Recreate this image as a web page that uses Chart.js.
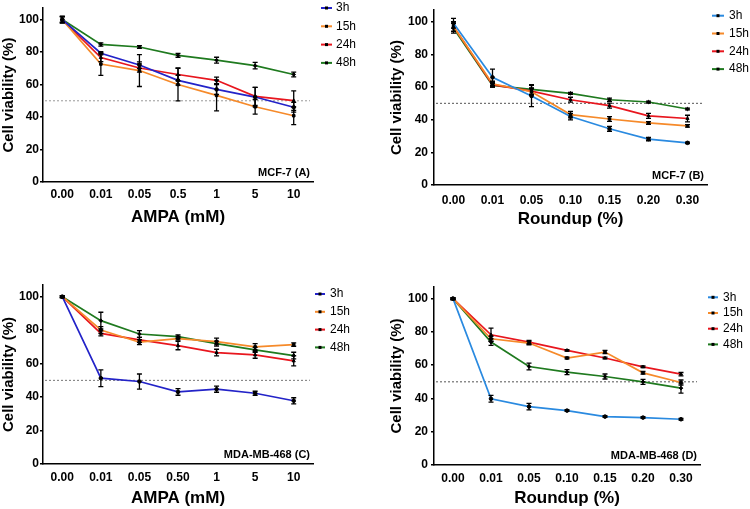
<!DOCTYPE html>
<html lang="en">
<head>
<meta charset="UTF-8">
<title>Cell viability</title>
<script src="https://cdn.jsdelivr.net/npm/chart.js"></script>
<style>
  body { margin: 0; background: #fff; }
  #wrap { position: relative; width: 750px; height: 509px; }
  .panel { position: absolute; }
</style>
</head>
<body>
<div id="wrap">
  <div class="panel" style="left:0;top:0"><canvas id="chartA" width="375" height="255"></canvas></div>
  <div class="panel" style="left:375px;top:0"><canvas id="chartB" width="375" height="255"></canvas></div>
  <div class="panel" style="left:0;top:255px"><canvas id="chartC" width="375" height="254"></canvas></div>
  <div class="panel" style="left:375px;top:255px"><canvas id="chartD" width="375" height="254"></canvas></div>
</div>

<script>
// data
const seriesNames = ['3h', '15h', '24h', '48h'];
const ampaDosesA = ['0.00', '0.01', '0.05', '0.5', '1', '5', '10'];
const ampaDosesC = ['0.00', '0.01', '0.05', '0.50', '1', '5', '10'];
const roundupDoses = ['0.00', '0.01', '0.05', '0.10', '0.15', '0.20', '0.30'];
const yTicks = [0, 20, 40, 60, 80, 100];

// MCF-7, AMPA (A)
const mcfAmpa3h  = [100, 79.3, 72.0, 62.6, 57.0, 52.3, 46.0];
const mcfAmpa15h = [100, 72.6, 68.6, 60.0, 53.3, 46.3, 40.8];
const mcfAmpa24h = [100, 76.6, 70.2, 66.2, 62.6, 52.7, 50.1];
const mcfAmpa48h = [100, 84.7, 83.1, 78.0, 75.0, 71.6, 66.2];
const mcfAmpa3hErr  = [2, 1, 2, 3, 3, 6, 3];
const mcfAmpa15hErr = [2, 7, 9.8, 10, 9.5, 4.5, 5.5];
const mcfAmpa24hErr = [2, 2.5, 2.5, 4, 2, 5.5, 6];
const mcfAmpa48hErr = [1.5, 1, 0.8, 1.2, 1.8, 2, 1.5];

// MCF-7, Roundup (B)
const mcfRound3h  = [99, 65.9, 54.5, 41.9, 34.4, 28.1, 25.8];
const mcfRound15h = [97, 62.0, 57.1, 43.1, 40.4, 38.0, 36.2];
const mcfRound24h = [97, 61.4, 57.5, 52.2, 48.6, 42.3, 40.7];
const mcfRound48h = [96, 61.0, 58.5, 56.1, 52.2, 50.8, 46.5];
const mcfRound3hErr  = [3, 5, 6.5, 2, 1.5, 1, 0.5];
const mcfRound15hErr = [3, 1.5, 2, 2, 1.5, 0.8, 0.8];
const mcfRound24hErr = [3, 1.5, 2, 1.5, 1.5, 1.5, 2];
const mcfRound48hErr = [3, 1, 3, 0.6, 1, 0.6, 0.5];

// MDA-MB-468, AMPA (C)
const mdaAmpa3h  = [100, 51.3, 49.3, 43.1, 44.7, 42.3, 37.8];
const mdaAmpa15h = [100, 80.1, 72.8, 75.0, 73.2, 70.0, 71.4];
const mdaAmpa24h = [100, 78.1, 74.2, 70.8, 66.6, 65.2, 61.6];
const mdaAmpa48h = [100, 85.7, 77.7, 76.1, 72.0, 68.2, 64.8];
const mdaAmpa3hErr  = [0.5, 5, 4.5, 2, 1.8, 1.2, 1.8];
const mdaAmpa15hErr = [0.5, 2, 1.5, 1, 2, 2, 1];
const mdaAmpa24hErr = [0.5, 1.5, 1.5, 2.5, 2, 2, 3];
const mdaAmpa48hErr = [0.5, 5, 2, 1, 1.5, 1.5, 2];

// MDA-MB-468, Roundup (D)
const mdaRound3h  = [100, 39.8, 35.1, 32.7, 29.1, 28.5, 27.5];
const mdaRound15h = [100, 75.9, 73.3, 64.3, 67.9, 55.4, 49.6];
const mdaRound24h = [100, 78.3, 73.9, 68.9, 64.3, 59.0, 54.6];
const mdaRound48h = [100, 73.9, 59.2, 55.8, 53.2, 50.0, 46.2];
const mdaRound3hErr  = [0.5, 2, 2, 0.5, 0.5, 0.5, 0.5];
const mdaRound15hErr = [0.5, 1.5, 1, 0.5, 1, 0.8, 1.5];
const mdaRound24hErr = [0.5, 4, 1, 0.5, 0.5, 0.5, 1];
const mdaRound48hErr = [0.5, 2, 2, 1.5, 1.5, 1.5, 3];

const darkColors  = ['#2323c8', '#f68a2a', '#e8161e', '#1f7a1f'];
const lightColors = ['#2a8ae0', '#f68a2a', '#e8161e', '#1f7a1f'];
const markerStyles = ['circle', 'rect', 'triangle', 'rectRot'];

Chart.defaults.font.family = '"Liberation Sans", Arial, sans-serif';
Chart.defaults.color = '#000';

// dotted 50% line, error bars, corner label and legend
const panelExtras = {
  id: 'panelExtras',
  beforeDatasetsDraw(chart, args, opts) {
    const { ctx, chartArea, scales: { y } } = chart;
    const yy = y.getPixelForValue(50);
    ctx.save();
    ctx.strokeStyle = opts.refColor;
    ctx.lineWidth = 1;
    ctx.setLineDash([2, 2]);
    ctx.beginPath();
    ctx.moveTo(chartArea.left + 2, yy);
    ctx.lineTo(chartArea.right - 3, yy);
    ctx.stroke();
    ctx.restore();
  },
  afterDatasetsDraw(chart) {
    const { ctx, scales: { y } } = chart;
    ctx.save();
    ctx.strokeStyle = '#000';
    ctx.lineWidth = 1.3;
    chart.data.datasets.forEach((ds, i) => {
      chart.getDatasetMeta(i).data.forEach((pt, j) => {
        const e = ds.errors[j];
        const top = y.getPixelForValue(ds.data[j] + e);
        const bot = y.getPixelForValue(ds.data[j] - e);
        ctx.beginPath();
        ctx.moveTo(pt.x, top); ctx.lineTo(pt.x, bot);
        ctx.moveTo(pt.x - 2.5, top); ctx.lineTo(pt.x + 2.5, top);
        ctx.moveTo(pt.x - 2.5, bot); ctx.lineTo(pt.x + 2.5, bot);
        ctx.stroke();
      });
    });
    ctx.restore();
  },
  afterDraw(chart, args, opts) {
    const { ctx, chartArea } = chart;
    ctx.save();
    ctx.font = 'bold 11px "Liberation Sans", Arial, sans-serif';
    ctx.fillStyle = '#000';
    ctx.textAlign = 'right';
    ctx.textBaseline = 'middle';
    ctx.fillText(opts.tag, chartArea.right - 3, chartArea.bottom - 9);

    const lg = opts.legend;
    ctx.font = '12px "Liberation Sans", Arial, sans-serif';
    ctx.textAlign = 'left';
    chart.data.datasets.forEach((ds, i) => {
      const ly = lg.y + i * lg.gap;
      ctx.strokeStyle = ds.borderColor;
      ctx.lineWidth = 2;
      ctx.beginPath();
      ctx.moveTo(lg.x, ly); ctx.lineTo(lg.x + lg.len, ly);
      ctx.stroke();
      ctx.fillStyle = '#000';
      ctx.fillRect(lg.x + lg.len / 2 - 1.5, ly - 1.5, 3, 3);
      ctx.fillText(ds.label, lg.textX, ly);
    });
    ctx.restore();
  }
};

function drawPanel(id, cfg) {
  const el = document.getElementById(id);
  const W = el.width, H = el.height;
  const a = cfg.area;
  new Chart(el, {
    type: 'line',
    data: {
      labels: cfg.labels,
      datasets: cfg.values.map((v, i) => ({
        label: seriesNames[i],
        data: v,
        errors: cfg.errors[i],
        borderColor: cfg.colors[i],
        borderWidth: 1.7,
        tension: 0,
        pointStyle: markerStyles[i],
        pointRadius: 1.8,
        pointBorderWidth: 1,
        pointBackgroundColor: '#000',
        pointBorderColor: '#000'
      }))
    },
    options: {
      responsive: false,
      animation: false,
      events: [],
      layout: { padding: { left: 0, top: a.top, right: W - a.right, bottom: 0 } },
      plugins: {
        legend: { display: false },
        tooltip: { enabled: false },
        panelExtras: { tag: cfg.tag, legend: cfg.legend, refColor: cfg.refColor }
      },
      scales: {
        x: {
          offset: true,
          grid: { display: false, drawTicks: false },
          border: { color: '#000', width: 1.5 },
          ticks: { font: { size: 12, weight: 'bold' }, padding: cfg.xPad, maxRotation: 0 },
          title: {
            display: true,
            text: cfg.xTitle,
            font: { size: 17, weight: 'bold' },
            padding: { top: 0, bottom: cfg.xTitlePad }
          },
          afterFit: s => { s.height = H - a.bottom; }
        },
        y: {
          min: 0,
          max: 107,
          afterBuildTicks: s => { s.ticks = yTicks.map(v => ({ value: v })); },
          grid: { drawOnChartArea: false, drawTicks: true, tickLength: 3, color: '#000', lineWidth: 1.5 },
          border: { color: '#000', width: 1.5 },
          ticks: { font: { size: 12, weight: 'bold' }, padding: cfg.yPad },
          title: {
            display: true,
            text: 'Cell viability (%)',
            font: { size: 15, weight: 'bold' },
            padding: { top: cfg.yTitlePad, bottom: 0 }
          },
          afterFit: s => { s.width = a.left; }
        }
      }
    },
    plugins: [panelExtras]
  });
}

drawPanel('chartA', {
  labels: ampaDosesA,
  values: [mcfAmpa3h, mcfAmpa15h, mcfAmpa24h, mcfAmpa48h],
  errors: [mcfAmpa3hErr, mcfAmpa15hErr, mcfAmpa24hErr, mcfAmpa48hErr],
  colors: darkColors,
  xTitle: 'AMPA (mM)',
  tag: 'MCF-7 (A)',
  refColor: '#999',
  area: { left: 43, right: 313, top: 2, bottom: 182 },
  xPad: 5, xTitlePad: 27, yPad: 1, yTitlePad: 0,
  legend: { x: 321, len: 11, textX: 336, y: 8, gap: 18.3 }
});

drawPanel('chartB', {
  labels: roundupDoses,
  values: [mcfRound3h, mcfRound15h, mcfRound24h, mcfRound48h],
  errors: [mcfRound3hErr, mcfRound15hErr, mcfRound24hErr, mcfRound48hErr],
  colors: lightColors,
  xTitle: 'Roundup (%)',
  tag: 'MCF-7 (B)',
  refColor: '#555',
  area: { left: 59, right: 332, top: 4, bottom: 185 },
  xPad: 8, xTitlePad: 25, yPad: 3, yTitlePad: 13,
  legend: { x: 337, len: 12, textX: 354, y: 15.7, gap: 17.8 }
});

drawPanel('chartC', {
  labels: ampaDosesC,
  values: [mdaAmpa3h, mdaAmpa15h, mdaAmpa24h, mdaAmpa48h],
  errors: [mdaAmpa3hErr, mdaAmpa15hErr, mdaAmpa24hErr, mdaAmpa48hErr],
  colors: darkColors,
  xTitle: 'AMPA (mM)',
  tag: 'MDA-MB-468 (C)',
  refColor: '#777',
  area: { left: 43, right: 313, top: 30, bottom: 209 },
  xPad: 6, xTitlePad: 0, yPad: 1, yTitlePad: 0,
  legend: { x: 315, len: 10, textX: 330, y: 39, gap: 17.8 }
});

drawPanel('chartD', {
  labels: roundupDoses,
  values: [mdaRound3h, mdaRound15h, mdaRound24h, mdaRound48h],
  errors: [mdaRound3hErr, mdaRound15hErr, mdaRound24hErr, mdaRound48hErr],
  colors: lightColors,
  xTitle: 'Roundup (%)',
  tag: 'MDA-MB-468 (D)',
  refColor: '#555',
  area: { left: 59, right: 325, top: 32, bottom: 210 },
  xPad: 6, xTitlePad: 0, yPad: 3, yTitlePad: 13,
  legend: { x: 333, len: 10, textX: 348, y: 42.3, gap: 15.7 }
});
</script>
</body>
</html>
